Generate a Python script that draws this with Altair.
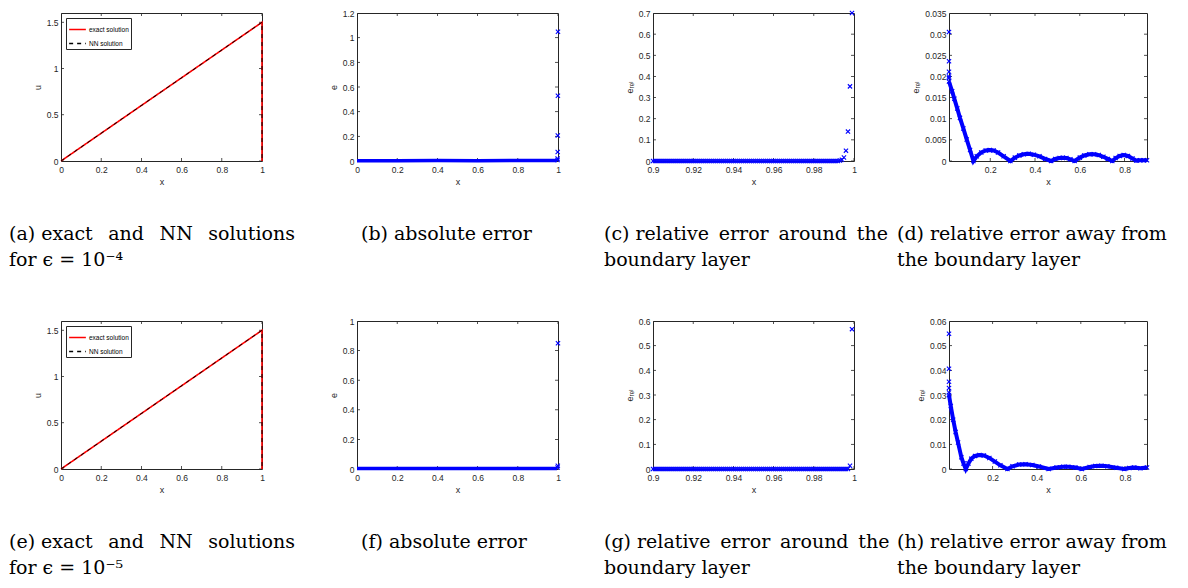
import altair as alt
import pandas as pd

# ---------------- data ----------------
SERIES = ["exact solution", "NN solution"]

# (a)/(e) exact and NN solutions
sol_x = [0.0, 0.25, 0.5, 0.75, 0.9999, 1.0]
exact_u_eps4 = [0.0, 0.375, 0.75, 1.125, 1.4998, 0.0]
nn_u_eps4 = [0.0, 0.375, 0.75, 1.125, 1.4998, 0.0]
exact_u_eps5 = [0.0, 0.375, 0.75, 1.125, 1.4999, 0.0]
nn_u_eps5 = [0.0, 0.375, 0.75, 1.125, 1.4999, 0.0]

# (b)/(f) absolute error
abs_band_x = [0.0, 0.2, 0.4, 0.6, 0.8, 0.995]
abs_band_y_eps4 = [0.003, 0.003, 0.004, 0.003, 0.004, 0.005]
abs_band_y_eps5 = [0.003, 0.003, 0.003, 0.003, 0.003, 0.004]
abs_spike_x_eps4 = [0.9975, 0.998, 0.9985, 0.999, 0.9995, 0.9999]
abs_spike_y_eps4 = [0.008, 0.021, 0.073, 0.207, 0.529, 1.048]
abs_spike_x_eps5 = [0.998, 0.999, 0.9999]
abs_spike_y_eps5 = [0.010, 0.022, 0.850]

# (c)/(g) relative error around the boundary layer
layer_zero_x = [
    0.900, 0.901, 0.902, 0.903, 0.904, 0.905, 0.906, 0.907, 0.908, 0.909,
    0.910, 0.911, 0.912, 0.913, 0.914, 0.915, 0.916, 0.917, 0.918, 0.919,
    0.920, 0.921, 0.922, 0.923, 0.924, 0.925, 0.926, 0.927, 0.928, 0.929,
    0.930, 0.931, 0.932, 0.933, 0.934, 0.935, 0.936, 0.937, 0.938, 0.939,
    0.940, 0.941, 0.942, 0.943, 0.944, 0.945, 0.946, 0.947, 0.948, 0.949,
    0.950, 0.951, 0.952, 0.953, 0.954, 0.955, 0.956, 0.957, 0.958, 0.959,
    0.960, 0.961, 0.962, 0.963, 0.964, 0.965, 0.966, 0.967, 0.968, 0.969,
    0.970, 0.971, 0.972, 0.973, 0.974, 0.975, 0.976, 0.977, 0.978, 0.979,
    0.980, 0.981, 0.982, 0.983, 0.984, 0.985, 0.986, 0.987, 0.988, 0.989,
    0.990, 0.991, 0.992,
]
layer_zero_x_extra = [0.993, 0.994, 0.995, 0.996, 0.997]
rel_layer_x_eps4 = [0.993, 0.994, 0.995, 0.996, 0.997, 0.998, 0.999]
rel_layer_y_eps4 = [0.002, 0.006, 0.017, 0.049, 0.139, 0.353, 0.700]
rel_layer_x_eps5 = [0.998, 0.999]
rel_layer_y_eps5 = [0.013, 0.567]

# (d)/(h) relative error away from the boundary layer
rel_edge_y_eps4 = [0.0305, 0.0236, 0.0211, 0.0200, 0.0196]
rel_away_x_eps4 = [0.016, 0.03, 0.04, 0.053, 0.065, 0.08, 0.095, 0.11, 0.125,
                   0.14, 0.16, 0.18, 0.198, 0.215, 0.235, 0.26, 0.29,
                   0.31, 0.33, 0.35, 0.372, 0.395, 0.42, 0.445, 0.472,
                   0.49, 0.51, 0.524, 0.54, 0.558, 0.577,
                   0.6, 0.62, 0.643, 0.664, 0.685, 0.705, 0.725, 0.745,
                   0.76, 0.778, 0.796, 0.815, 0.835, 0.852, 0.87, 0.885, 0.9]
rel_away_y_eps4 = [0.0188, 0.0165, 0.0147, 0.0124, 0.0102, 0.0077, 0.0051, 0.0026, 0.0,
                   0.0011, 0.0020, 0.0025, 0.0026, 0.0025, 0.0020, 0.0011, 0.0,
                   0.0008, 0.0013, 0.0016, 0.0017, 0.0015, 0.0011, 0.0005, 0.0,
                   0.0005, 0.0007, 0.00075, 0.0007, 0.0004, 0.0,
                   0.0008, 0.0013, 0.0016, 0.0016, 0.0014, 0.0010, 0.0005, 0.0,
                   0.0007, 0.0012, 0.0014, 0.0012, 0.0006, 0.0001, 0.0002, 0.0002, 0.0002]
rel_edge_y_eps5 = [0.0548, 0.0406, 0.0354, 0.0328, 0.0310]
rel_away_x_eps5 = [0.002, 0.01, 0.021, 0.032, 0.043, 0.058, 0.068, 0.078,
                   0.09, 0.103, 0.12, 0.14, 0.16, 0.185, 0.21, 0.235, 0.267,
                   0.29, 0.32, 0.349, 0.38, 0.41, 0.454,
                   0.49, 0.52, 0.543, 0.575, 0.604,
                   0.64, 0.665, 0.693, 0.72, 0.76, 0.797,
                   0.82, 0.842, 0.87, 0.9]
rel_away_y_eps5 = [0.0300, 0.0255, 0.0200, 0.0150, 0.0107, 0.0048, 0.0022, 0.0,
                   0.0022, 0.0042, 0.0053, 0.0057, 0.0055, 0.0045, 0.0030, 0.0015, 0.0,
                   0.0011, 0.0018, 0.0019, 0.0016, 0.0010, 0.0,
                   0.0006, 0.0009, 0.0009, 0.0006, 0.0,
                   0.0008, 0.0012, 0.0013, 0.0011, 0.0005, 0.0,
                   0.0004, 0.0006, 0.0003, 0.0006]

# tick values
ticks_unit = [0, 0.2, 0.4, 0.6, 0.8, 1]
ticks_u = [0, 0.5, 1, 1.5]
ticks_e_eps4 = [0, 0.2, 0.4, 0.6, 0.8, 1, 1.2]
ticks_e_eps5 = [0, 0.2, 0.4, 0.6, 0.8, 1]
ticks_x_layer = [0.9, 0.92, 0.94, 0.96, 0.98, 1]
ticks_rel_c = [0, 0.1, 0.2, 0.3, 0.4, 0.5, 0.6, 0.7]
ticks_rel_g = [0, 0.1, 0.2, 0.3, 0.4, 0.5, 0.6]
ticks_x_away = [0.2, 0.4, 0.6, 0.8]
ticks_rel_d = [0, 0.005, 0.01, 0.015, 0.02, 0.025, 0.03, 0.035]
ticks_rel_h = [0, 0.01, 0.02, 0.03, 0.04, 0.05, 0.06]

# captions
cap_a = ["(a) exact \u2002and \u2002NN \u2002solutions", "for \u03f5 = 10\u207b\u2074"]
cap_b = ["(b) absolute error"]
cap_c = ["(c) relative \u2009error \u2009around \u2009the", "boundary layer"]
cap_d = ["(d) relative error away from", "the boundary layer"]
cap_e = ["(e) exact \u2002and \u2002NN \u2002solutions", "for \u03f5 = 10\u207b\u2075"]
cap_f = ["(f) absolute error"]
cap_g = ["(g) relative \u2009error \u2009around \u2009the", "boundary layer"]
cap_h = ["(h) relative error away from", "the boundary layer"]

E_REL = "e\u1d63\u2091\u2097"

# ---------------- style ----------------
AX = "#262626"
BLUE = "#0000ff"
XPATH = "M-1,-1L1,1M-1,1L1,-1"
H = 148
W = 201


def make_panel(xdom, ydom, xt, yt, ytitle, caption, dx, marks, width=W):
    sx = alt.Scale(domain=xdom, nice=False, zero=False)
    sy = alt.Scale(domain=ydom, nice=False, zero=False)
    axx = alt.Axis(values=xt, title="x", format="~g", labelFlush=False, labelOverlap=False,
                   labelPadding=4)
    axy = alt.Axis(values=yt, title=ytitle, format="~g", labelOverlap=False)

    enc = {
        "X": lambda f: alt.X(f, type="quantitative", scale=sx, axis=axx),
        "Y": lambda f: alt.Y(f, type="quantitative", scale=sy, axis=axy),
        "XD": lambda v: alt.XDatum(v, scale=sx, axis=axx),
        "YD": lambda v: alt.YDatum(v, scale=sy, axis=axy),
    }

    tx = pd.DataFrame({"t": xt})
    ty = pd.DataFrame({"t": yt})
    tk = dict(clip=True, color=AX, thickness=0.8, size=6, opacity=1)
    layers = []
    for yv in ydom:
        layers.append(
            alt.Chart(tx).mark_tick(orient="vertical", **tk).encode(
                x=enc["X"]("t"), y=enc["YD"](yv))
        )
    for xv in xdom:
        layers.append(
            alt.Chart(ty).mark_tick(orient="horizontal", **tk).encode(
                y=enc["Y"]("t"), x=enc["XD"](xv))
        )
    layers += marks(enc)
    return alt.layer(*layers).properties(
        width=width,
        height=H,
        title=alt.TitleParams(
            text=caption,
            orient="bottom",
            anchor="start",
            frame="group",
            align="left",
            baseline="top",
            dx=dx,
            offset=38,
            font="DejaVu Serif",
            fontSize=19,
            fontWeight="normal",
            color="black",
            lineHeight=26,
        ),
    )


def sol_marks(exact, nn):
    def f(enc):
        X, Y = enc["X"], enc["Y"]
        d_ex = pd.DataFrame({"x": sol_x, "u": exact, "series": SERIES[0]})
        d_nn = pd.DataFrame({"x": sol_x, "u": nn, "series": SERIES[1]})
        leg = alt.Legend(
            title=None, orient="top-left", offset=5, padding=2, rowPadding=1,
            strokeColor=AX, fillColor="white", symbolType="stroke", symbolSize=280,
            symbolStrokeWidth=1.5, labelFontSize=6.5, labelFont="Liberation Sans",
            labelColor="black", labelOffset=2, cornerRadius=0,
        )
        col = alt.Color("series:N", scale=alt.Scale(domain=SERIES, range=["#ff0000", "#000000"]), legend=leg)
        dash = alt.StrokeDash("series:N", scale=alt.Scale(domain=SERIES, range=[[1, 0], [4, 4]]), legend=leg)
        l1 = alt.Chart(d_ex).mark_line(strokeWidth=1.6).encode(x=X("x"), y=Y("u"), color=col, strokeDash=dash)
        l2 = alt.Chart(d_nn).mark_line(strokeWidth=1.0).encode(x=X("x"), y=Y("u"), color=col, strokeDash=dash)
        return [l1, l2]
    return f


def pts(df, enc, y=None):
    return alt.Chart(df).mark_point(shape=XPATH, size=18, color=BLUE, strokeWidth=1.1,
                                    filled=False, opacity=1).encode(
        x=enc["X"]("x"), y=y if y is not None else enc["Y"]("y"))


def abs_marks(band_y, sx_, sy_):
    def f(enc):
        band = pd.DataFrame({"x": abs_band_x, "y": band_y})
        spike = pd.DataFrame({"x": sx_, "y": sy_})
        return [
            alt.Chart(band).mark_line(color=BLUE, strokeWidth=3.5).encode(
                x=enc["X"]("x"), y=enc["Y"]("y")),
            pts(spike, enc),
        ]
    return f


def layer_marks(zero_x, px, py):
    def f(enc):
        z = pd.DataFrame({"x": zero_x})
        p = pd.DataFrame({"x": px, "y": py})
        return [pts(z, enc, y=enc["YD"](0)), pts(p, enc)]
    return f


def away_marks(edge_y, cx, cy):
    def f(enc):
        e = pd.DataFrame({"x": [cx[0]] * len(edge_y), "y": edge_y})
        c = pd.DataFrame({"x": cx, "y": cy})
        return [
            alt.Chart(c).mark_line(color=BLUE, strokeWidth=4).encode(
                x=enc["X"]("x"), y=enc["Y"]("y")),
            pts(c, enc),
            pts(e, enc),
        ]
    return f


pa = make_panel([0, 1], [0, 1.6], ticks_unit, ticks_u, "u", cap_a, -52,
                sol_marks(exact_u_eps4, nn_u_eps4))
pb = make_panel([0, 1], [0, 1.2], ticks_unit, ticks_e_eps4, "e", cap_b, 4,
                abs_marks(abs_band_y_eps4, abs_spike_x_eps4, abs_spike_y_eps4))
pc = make_panel([0.9, 1], [0, 0.7], ticks_x_layer, ticks_rel_c, E_REL, cap_c, -49,
                layer_marks(layer_zero_x, rel_layer_x_eps4, rel_layer_y_eps4))
pd_ = make_panel([0.016, 0.9], [0, 0.035], ticks_x_away, ticks_rel_d, E_REL, cap_d, -52,
                 away_marks(rel_edge_y_eps4, rel_away_x_eps4, rel_away_y_eps4), width=198)

pe = make_panel([0, 1], [0, 1.6], ticks_unit, ticks_u, "u", cap_e, -52,
                sol_marks(exact_u_eps5, nn_u_eps5))
pf = make_panel([0, 1], [0, 1], ticks_unit, ticks_e_eps5, "e", cap_f, 4,
                abs_marks(abs_band_y_eps5, abs_spike_x_eps5, abs_spike_y_eps5))
pg = make_panel([0.9, 1], [0, 0.6], ticks_x_layer, ticks_rel_g, E_REL, cap_g, -49,
                layer_marks(layer_zero_x + layer_zero_x_extra, rel_layer_x_eps5, rel_layer_y_eps5))
ph = make_panel([0.002, 0.9], [0, 0.06], ticks_x_away, ticks_rel_h, E_REL, cap_h, -52,
                away_marks(rel_edge_y_eps5, rel_away_x_eps5, rel_away_y_eps5), width=198)

row1 = alt.hconcat(pa, pb, pc, pd_, spacing=95, bounds="flush").resolve_scale(
    color="independent", strokeDash="independent")
row2 = alt.hconcat(pe, pf, pg, ph, spacing=95, bounds="flush").resolve_scale(
    color="independent", strokeDash="independent")

chart = (
    alt.vconcat(row1, row2, spacing=308, bounds="flush")
    .resolve_scale(color="independent", strokeDash="independent")
    .properties(padding=0)
    .configure(background="white")
    .configure_view(stroke=AX, strokeWidth=1)
    .configure_axis(
        domain=False, ticks=False, grid=False,
        labelFont="Liberation Sans", labelFontSize=8.5, labelColor=AX, labelPadding=3,
        titleFont="Liberation Sans, DejaVu Sans", titleFontSize=9, titleFontWeight="normal",
        titleColor=AX, titlePadding=4,
    )
)

chart.save("out.html", embed_options={"renderer": "svg", "actions": False})
